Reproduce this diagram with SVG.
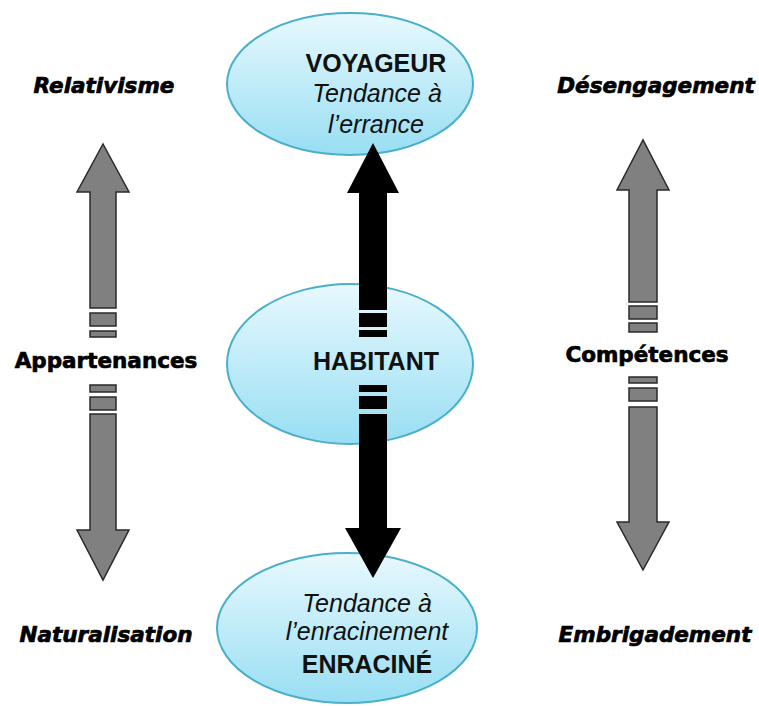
<svg xmlns="http://www.w3.org/2000/svg" width="759" height="706" viewBox="0 0 759 706">
<defs>
<linearGradient id="bl" x1="0" y1="0" x2="0" y2="1">
<stop offset="0" stop-color="#e8f9fe"/>
<stop offset="1" stop-color="#98def3"/>
</linearGradient>
<style>
.ell{fill:url(#bl);stroke:#4aafcb;stroke-width:2}
.gr{fill:#808080;stroke:#2a2a2a;stroke-width:1.5}
.bk{fill:#000}
.lab{font-family:"DejaVu Sans",sans-serif;font-weight:bold;font-size:21.5px;text-anchor:middle;fill:#000;stroke:#000;stroke-width:0.7}
.it{font-style:italic}
.nt{font-family:"Liberation Sans",Arial,sans-serif;font-size:25px;text-anchor:middle;fill:#111}
.b{font-weight:bold}
</style>
</defs>
<rect width="759" height="706" fill="#fff"/>
<g id="voyageur">
<ellipse class="ell" cx="350" cy="84" rx="123" ry="71"/>
<text class="nt b" x="376" y="72">VOYAGEUR</text>
<text class="nt it" x="377" y="102">Tendance à</text>
<text class="nt it" x="376" y="133">l’errance</text>
</g>
<g id="habitant">
<ellipse class="ell" cx="350" cy="364" rx="123" ry="80"/>
</g>
<g id="enracine">
<ellipse class="ell" cx="347" cy="628" rx="130" ry="75"/>
<text class="nt it" x="367" y="612">Tendance à</text>
<text class="nt it" x="367" y="640">l’enracinement</text>
<text class="nt b" x="367" y="673">ENRACINÉ</text>
</g>
<g id="connectors">
<g id="black-up" class="bk">
<polygon points="347,193 373,143 399,193"/>
<rect x="359" y="192" width="28" height="118"/>
<rect x="359" y="313" width="28" height="14"/>
<rect x="359" y="330" width="28" height="7"/>
</g>
<g id="black-down" class="bk">
<rect x="359" y="385" width="28" height="7"/>
<rect x="359" y="396" width="28" height="13"/>
<rect x="359" y="414" width="28" height="115"/>
<polygon points="345,528 401,528 373,578"/>
</g>
<g id="left-up">
<polygon class="gr" points="90,308 90,192 77,192 103,144 129,192 116,192 116,308"/>
<rect class="gr" x="90" y="313" width="26" height="13"/>
<rect class="gr" x="90" y="331" width="26" height="6"/>
</g>
<g id="left-down">
<rect class="gr" x="90" y="385" width="26" height="7"/>
<rect class="gr" x="90" y="397" width="26" height="13"/>
<polygon class="gr" points="90,414 116,414 116,530 129,530 103,580 77,530 90,530"/>
</g>
<g id="right-up">
<polygon class="gr" points="629,302 629,190 617,190 643,140 669,190 657,190 657,302"/>
<rect class="gr" x="629" y="306" width="28" height="13"/>
<rect class="gr" x="629" y="323" width="28" height="9"/>
</g>
<g id="right-down">
<rect class="gr" x="629" y="377" width="28" height="6"/>
<rect class="gr" x="629" y="388" width="28" height="13"/>
<polygon class="gr" points="629,407 657,407 657,522 669,522 643,570 617,522 629,522"/>
</g>
</g>
<g id="habitant-label">
<text class="nt b" x="376" y="370">HABITANT</text>
</g>
<g id="relativisme"><text class="lab it" x="104" y="93">Relativisme</text></g>
<g id="desengagement"><text class="lab it" x="656" y="93">Désengagement</text></g>
<g id="appartenances"><text class="lab" x="106" y="368">Appartenances</text></g>
<g id="competences"><text class="lab" x="647" y="362">Compétences</text></g>
<g id="naturalisation"><text class="lab it" x="106" y="642">Naturalisation</text></g>
<g id="embrigadement"><text class="lab it" x="655" y="642">Embrigadement</text></g>
</svg>
